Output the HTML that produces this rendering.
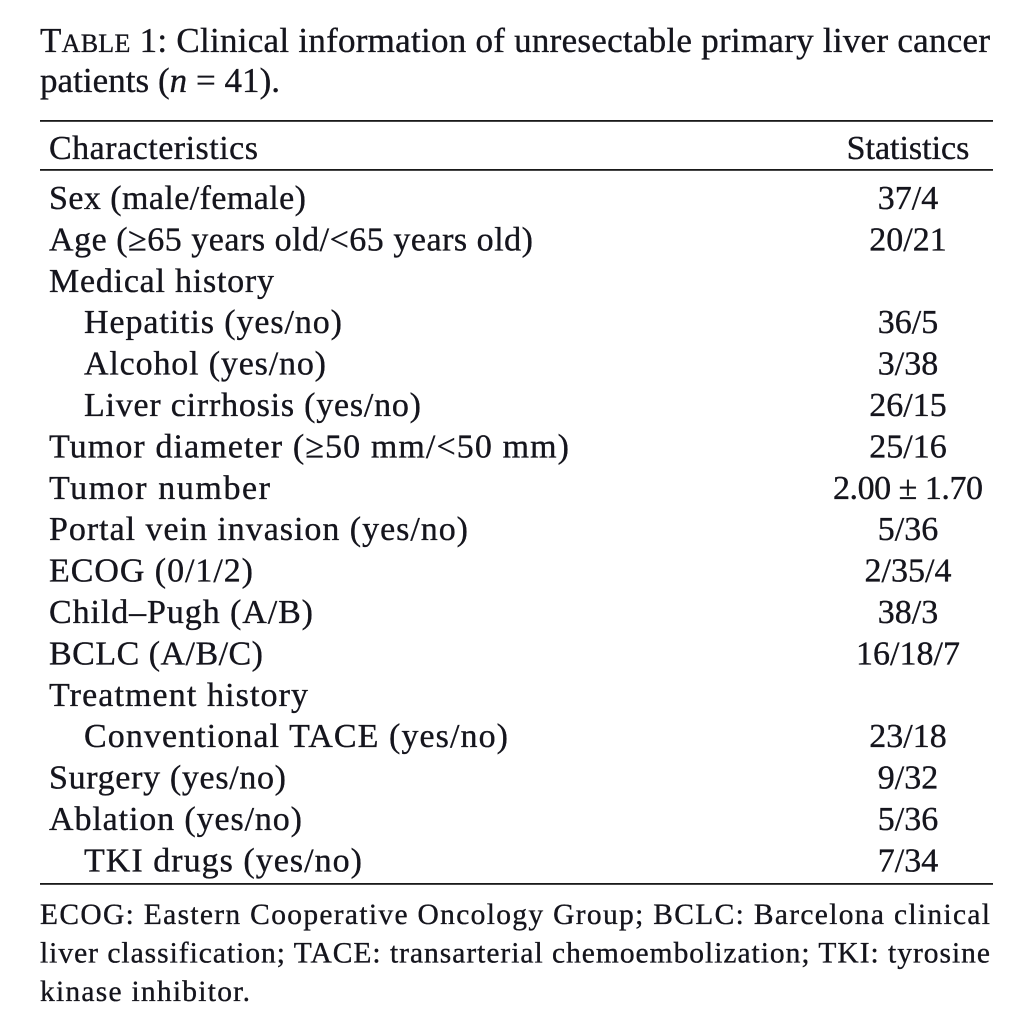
<!DOCTYPE html>
<html>
<head>
<meta charset="utf-8">
<style>
html,body{margin:0;padding:0;background:#fff;}
svg{display:block;}
text{font-family:"Liberation Serif","Times New Roman",serif;fill:#15151d;stroke:#15151d;stroke-width:0.35px;}
</style>
</head>
<body>
<svg width="1030" height="1030" viewBox="0 0 1030 1030" xmlns="http://www.w3.org/2000/svg">
<rect x="0" y="0" width="1030" height="1030" fill="#ffffff"/>
<!-- Title -->
<text x="40" y="52" font-size="35" textLength="950" lengthAdjust="spacing">T<tspan font-size="26">ABLE</tspan> 1: Clinical information of unresectable primary liver cancer</text>
<text x="40" y="92" font-size="35" textLength="240" lengthAdjust="spacing">patients (<tspan font-style="italic">n</tspan> = 41).</text>

<!-- Rules -->
<rect x="40" y="120" width="953" height="1.8" fill="#1a1a1a"/>
<rect x="40" y="169" width="953" height="1.8" fill="#1a1a1a"/>
<rect x="40" y="883" width="953" height="1.8" fill="#1a1a1a"/>

<!-- Header -->
<text x="49" y="159" font-size="34" textLength="209" lengthAdjust="spacing">Characteristics</text>
<text x="908" y="159" font-size="34" text-anchor="middle">Statistics</text>

<!-- Rows left -->
<g font-size="34">
<text x="49" y="209" textLength="257" lengthAdjust="spacing">Sex (male/female)</text>
<text x="49" y="250.4" textLength="484" lengthAdjust="spacing">Age (≥65 years old/&lt;65 years old)</text>
<text x="49" y="291.8" textLength="225" lengthAdjust="spacing">Medical history</text>
<text x="84" y="333.2" textLength="258" lengthAdjust="spacing">Hepatitis (yes/no)</text>
<text x="84" y="374.6" textLength="242" lengthAdjust="spacing">Alcohol (yes/no)</text>
<text x="84" y="416" textLength="337" lengthAdjust="spacing">Liver cirrhosis (yes/no)</text>
<text x="49" y="457.4" textLength="520" lengthAdjust="spacing">Tumor diameter (≥50 mm/&lt;50 mm)</text>
<text x="49" y="498.8" textLength="221" lengthAdjust="spacing">Tumor number</text>
<text x="49" y="540.2" textLength="419" lengthAdjust="spacing">Portal vein invasion (yes/no)</text>
<text x="49" y="581.6" textLength="204" lengthAdjust="spacing">ECOG (0/1/2)</text>
<text x="49" y="623" textLength="264" lengthAdjust="spacing">Child–Pugh (A/B)</text>
<text x="49" y="664.4" textLength="214" lengthAdjust="spacing">BCLC (A/B/C)</text>
<text x="49" y="705.8" textLength="259" lengthAdjust="spacing">Treatment history</text>
<text x="84" y="747.2" textLength="424" lengthAdjust="spacing">Conventional TACE (yes/no)</text>
<text x="49" y="788.6" textLength="237" lengthAdjust="spacing">Surgery (yes/no)</text>
<text x="49" y="830" textLength="253" lengthAdjust="spacing">Ablation (yes/no)</text>
<text x="84" y="871.4" textLength="278" lengthAdjust="spacing">TKI drugs (yes/no)</text>
</g>

<!-- Rows right -->
<g font-size="34" text-anchor="middle">
<text x="908" y="209">37/4</text>
<text x="908" y="250.4">20/21</text>
<text x="908" y="333.2">36/5</text>
<text x="908" y="374.6">3/38</text>
<text x="908" y="416">26/15</text>
<text x="908" y="457.4">25/16</text>
<text x="908" y="498.8" textLength="150" lengthAdjust="spacing">2.00 ± 1.70</text>
<text x="908" y="540.2">5/36</text>
<text x="908" y="581.6">2/35/4</text>
<text x="908" y="623">38/3</text>
<text x="908" y="664.4">16/18/7</text>
<text x="908" y="747.2">23/18</text>
<text x="908" y="788.6">9/32</text>
<text x="908" y="830">5/36</text>
<text x="908" y="871.4">7/34</text>
</g>

<!-- Footnote -->
<g font-size="29.5">
<text x="40" y="924" textLength="950" lengthAdjust="spacing">ECOG: Eastern Cooperative Oncology Group; BCLC: Barcelona clinical</text>
<text x="40" y="962.5" textLength="950" lengthAdjust="spacing">liver classification; TACE: transarterial chemoembolization; TKI: tyrosine</text>
<text x="40" y="1001" textLength="210" lengthAdjust="spacing">kinase inhibitor.</text>
</g>
</svg>
</body>
</html>
